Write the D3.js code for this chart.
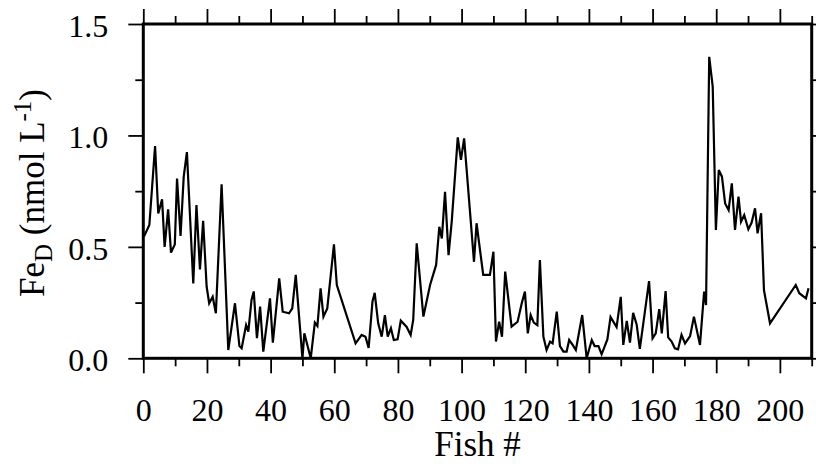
<!DOCTYPE html>
<html>
<head>
<meta charset="utf-8">
<script src="https://cdn.jsdelivr.net/npm/d3@7"></script>
<style>
  html, body { margin: 0; padding: 0; background: #fff; }
  svg { display: block; }
  text { font-family: "Liberation Serif", "Times New Roman", serif; fill: #000; }
</style>
</head>
<body>
<svg id="chart" width="816" height="466"></svg>
<script>
// ---- data ----
const fishNo = [
  0.2, 1.9, 3.7, 4.7, 5.9, 6.7, 7.8, 8.7, 9.9, 10.6, 11.7, 12.7, 13.7, 15.7, 16.7, 17.8, 18.8, 19.9,
  20.7, 21.8, 22.8, 24.6, 26.7, 28.8, 30.2, 30.9, 32.3, 33.0, 34.0, 34.7, 35.7, 36.7, 37.7, 39.8,
  40.7, 42.7, 43.8, 45.8, 46.8, 47.9, 50.0, 50.6, 52.6, 53.9, 54.7, 55.7, 56.6, 57.8, 59.9, 60.8,
  66.7, 68.6, 69.8, 70.8, 72.0, 72.7, 73.8, 74.9, 75.9, 76.8, 77.8, 78.7, 79.9, 80.9, 82.7, 84.0,
  84.8, 85.9, 88.0, 90.1, 92.0, 93.0, 93.8, 94.8, 95.9, 96.9, 98.8, 99.8, 100.8, 103.9, 104.7,
  106.8, 108.9, 110.0, 110.8, 111.8, 112.7, 113.7, 115.7, 117.6, 118.9, 119.9, 120.8, 121.7, 122.7,
  123.8, 124.6, 125.7, 126.7, 127.8, 128.6, 129.9, 130.9, 132.0, 133.0, 133.8, 134.9, 135.9, 137.9,
  139.3, 140.9, 141.8, 143.0, 144.0, 145.8, 146.8, 148.7, 150.0, 150.8, 151.9, 152.9, 153.9, 155.0,
  156.0, 158.9, 160.0, 161.0, 162.1, 162.9, 164.1, 164.9, 166.0, 167.0, 168.0, 169.1, 170.2, 171.8,
  173.0, 174.9, 176.2, 176.8, 177.8, 178.9, 179.9, 180.8, 181.8, 182.8, 183.9, 184.9, 185.9, 187.0,
  187.8, 188.8, 190.1, 191.1, 192.2, 193.0, 194.1, 195.0, 196.9, 205.0, 206.1, 208.2, 209.0
];
const feD = [
  0.546, 0.598, 0.952, 0.65, 0.713, 0.50, 0.668, 0.474, 0.511, 0.807, 0.549, 0.815, 0.925, 0.336, 0.688, 0.399, 0.617, 0.321,
  0.247, 0.276, 0.202, 0.781, 0.037, 0.247, 0.055, 0.045, 0.149, 0.12, 0.262, 0.30, 0.09, 0.232, 0.03, 0.269,
  0.07, 0.359, 0.209, 0.202, 0.224, 0.374, 0.0, 0.112, 0.0, 0.16, 0.145, 0.314, 0.187, 0.224, 0.511, 0.329,
  0.067, 0.105, 0.097, 0.047, 0.254, 0.294, 0.157, 0.097, 0.194, 0.097, 0.135, 0.082, 0.085, 0.169, 0.142, 0.105,
  0.172, 0.516, 0.187, 0.329, 0.419, 0.59, 0.538, 0.747, 0.463, 0.613, 0.991, 0.89, 0.987, 0.433, 0.606,
  0.374, 0.374, 0.478, 0.075, 0.164, 0.097, 0.389, 0.142, 0.164, 0.247, 0.299, 0.112, 0.194, 0.16,
  0.149, 0.441, 0.097, 0.037, 0.075, 0.067, 0.209, 0.055, 0.03, 0.03, 0.082, 0.06, 0.037, 0.194,
  0.0, 0.082, 0.055, 0.055, 0.018, 0.085, 0.185, 0.14, 0.276, 0.06, 0.168, 0.07, 0.204, 0.152,
  0.042, 0.346, 0.09, 0.112, 0.221, 0.112, 0.302, 0.094, 0.075, 0.045, 0.04, 0.105, 0.067, 0.1,
  0.187, 0.06, 0.299, 0.239, 1.353, 1.219, 0.576, 0.845, 0.815, 0.695, 0.665, 0.785, 0.576, 0.725,
  0.613, 0.643, 0.579, 0.608, 0.673, 0.561, 0.651, 0.306, 0.157, 0.329, 0.292, 0.269, 0.314
];
const xMajorTicks = [0, 20, 40, 60, 80, 100, 120, 140, 160, 180, 200];
const xMinorTicks = [10, 30, 50, 70, 90, 110, 130, 150, 170, 190, 210];
const yMajorTicks = [0, 0.5, 1.0, 1.5];
const yMinorTicks = [0.25, 0.75, 1.25];
const xDomain = [0, 210];
const yDomain = [0, 1.5];
const xTitle = "Fish #";

// ---- layout ----
const L = 143.3, R = 811.7, T = 24, B = 358.3;
const MAJOR = 15, MINOR = 8;

const svg = d3.select("#chart");
const x = d3.scaleLinear().domain(xDomain).range([L, R]);
const y = d3.scaleLinear().domain(yDomain).range([B, T]);

function tickAxis(axisFn, scale, ticks, size, fmt) {
  return axisFn(scale).tickValues(ticks).tickSize(size).tickSizeOuter(0).tickFormat(fmt || "");
}

const styleAxis = g => {
  g.select(".domain").remove();
  g.selectAll(".tick line").attr("stroke", "#000").attr("stroke-width", 1.8);
};

// bottom
svg.append("g").attr("transform", `translate(0,${B})`)
  .call(tickAxis(d3.axisBottom, x, xMinorTicks.filter(v => v <= xDomain[1]), MINOR)).call(styleAxis);
const xb = svg.append("g").attr("transform", `translate(0,${B})`)
  .call(tickAxis(d3.axisBottom, x, xMajorTicks, MAJOR, d3.format("d"))).call(styleAxis);
xb.selectAll(".tick text").attr("font-size", 32)
  .attr("y", 0).attr("dy", 0).attr("transform", "translate(0,62.5)");
// top
svg.append("g").attr("transform", `translate(0,${T})`)
  .call(tickAxis(d3.axisTop, x, xMinorTicks.filter(v => v <= xDomain[1]), MINOR)).call(styleAxis);
svg.append("g").attr("transform", `translate(0,${T})`)
  .call(tickAxis(d3.axisTop, x, xMajorTicks, MAJOR)).call(styleAxis);
// left
svg.append("g").attr("transform", `translate(${L},0)`)
  .call(tickAxis(d3.axisLeft, y, yMinorTicks, MINOR)).call(styleAxis);
const yl = svg.append("g").attr("transform", `translate(${L},0)`)
  .call(tickAxis(d3.axisLeft, y, yMajorTicks, MAJOR, d3.format(".1f"))).call(styleAxis);
yl.selectAll(".tick text").attr("font-size", 32)
  .attr("x", -35).attr("dy", "0.38em");
// right
svg.append("g").attr("transform", `translate(${R},0)`)
  .call(tickAxis(d3.axisRight, y, yMinorTicks, MINOR)).call(styleAxis);
svg.append("g").attr("transform", `translate(${R},0)`)
  .call(tickAxis(d3.axisRight, y, yMajorTicks, MAJOR)).call(styleAxis);

// data line
const pts = fishNo.map((f, i) => [f, feD[i]]);
svg.append("path")
  .datum(pts)
  .attr("fill", "none")
  .attr("stroke", "#000")
  .attr("stroke-width", 2.2)
  .attr("stroke-linejoin", "miter")
  .attr("d", d3.line().x(d => x(d[0])).y(d => y(d[1])));

// frame
svg.append("rect")
  .attr("x", L).attr("y", T).attr("width", R - L).attr("height", B - T)
  .attr("fill", "none").attr("stroke", "#000").attr("stroke-width", 3);

// titles
svg.append("text")
  .attr("x", (L + R) / 2).attr("y", 456)
  .attr("text-anchor", "middle").attr("font-size", 35)
  .text(xTitle);

const yt = svg.append("text")
  .attr("transform", "translate(44,193) rotate(-90)")
  .attr("text-anchor", "middle").attr("font-size", 35);
yt.append("tspan").text("Fe");
yt.append("tspan").attr("dy", 8).attr("font-size", 25).text("D");
yt.append("tspan").attr("dy", -8).text(" (nmol L");
yt.append("tspan").attr("dy", -13).attr("font-size", 25).text("-1");
yt.append("tspan").attr("dy", 13).text(")");
</script>
</body>
</html>
